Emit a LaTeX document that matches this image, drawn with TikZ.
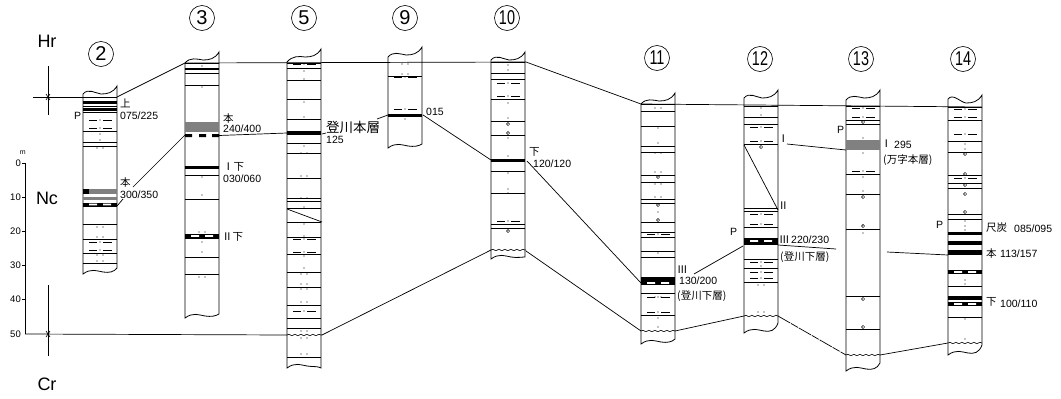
\documentclass[tikz,border=0pt]{standalone}
\usepackage{fontspec}
\setmainfont{Liberation Sans}
\newfontfamily\cjk{Noto Sans CJK JP}
\usepackage{tikz}
\usetikzlibrary{decorations.pathmorphing}
\tikzstyle{wall} = [draw, line width=0.8pt]
\tikzstyle{bedline} = [draw, line width=0.7pt]
\tikzstyle{tieline} = [draw, line width=0.7pt]
\tikzstyle{wavy} = [draw, line width=0.6pt, decorate, decoration={snake, amplitude=0.7pt, segment length=6pt}]
\tikzstyle{numeral} = [draw, circle, line width=0.6pt, minimum size=25pt, inner sep=0pt, font=\fontsize{20}{20}\selectfont]
\tikzstyle{unit} = [inner sep=0pt, font=\fontsize{18}{18}\selectfont]
\tikzstyle{tag} = [inner sep=0pt, anchor=west, font=\fontsize{10.5}{11}\selectfont]
\tikzstyle{kanji} = [inner sep=0pt, anchor=west, font=\fontsize{10.5}{11}\selectfont\cjk]
\tikzstyle{scalenum} = [inner sep=0pt, anchor=east, font=\fontsize{9.5}{10}\selectfont]
\newcommand{\narrownum}[1]{\scalebox{0.72}[1]{#1}}
% outline: x, top left, top right, bottom left, bottom right
\newcommand{\strata}[5]{\draw[wall] (#1,#2) -- (#1,#4) .. controls (#1+8,#4-6) and (#1+14,#4-3) .. (#1+20,#4-2) .. controls (#1+26,#4-1) and (#1+31,#4-2) .. (#1+34,#5) -- (#1+34,#3) .. controls (#1+30,#3+7) and (#1+24,#3+8) .. (#1+18,#3+8) .. controls (#1+12,#3+7) and (#1+5,#2-6) .. (#1,#2);}
\newcommand{\beds}[2]{\foreach \y in {#2} \draw[bedline] (#1,\y) -- (#1+34,\y);}
\newcommand{\sands}[2]{\foreach \y in {#2} {\draw[line width=0.7pt] (#1+6,\y) -- (#1+14,\y) (#1+20,\y) -- (#1+29,\y); \fill (#1+17,\y) circle (0.6pt);}}
\newcommand{\grits}[2]{\foreach \y in {#2} \fill (#1+17,\y) circle (0.6pt);}
\newcommand{\pairs}[2]{\foreach \y in {#2} {\fill (#1+14,\y) circle (0.6pt); \fill (#1+20,\y) circle (0.6pt);}}
\newcommand{\pebbles}[2]{\foreach \y in {#2} \draw[line width=0.5pt] (#1+17,\y) circle (1.6pt);}
\newcommand{\seam}[4][black]{\fill[#1] (#2,#3) rectangle (#2+34,#4);}
\newcommand{\specks}[2]{\foreach \y in {#2} \fill[white] (#1+6,\y-0.8) rectangle (#1+14,\y+0.8) (#1+20,\y-0.8) rectangle (#1+28,\y+0.8);}

\begin{document}
\begin{tikzpicture}[x=1pt, y=-1pt]
	\useasboundingbox (0,0) rectangle (1061,399);
	% Place numbers
	\node [numeral] (n2) at (101,54) {2};
	\node [numeral] (n3) at (202,18) {3};
	\node [numeral] (n5) at (304,18) {5};
	\node [numeral] (n9) at (405,18) {9};
	\node [numeral] (n10) at (507,18) {\narrownum{10}};
	\node [numeral] (n11) at (657,58) {\narrownum{11}};
	\node [numeral] (n12) at (760,59) {\narrownum{12}};
	\node [numeral] (n13) at (861,59) {\narrownum{13}};
	\node [numeral] (n14) at (963,59) {\narrownum{14}};

	\node [unit] (hr) at (47,41) {Hr};
	\node [unit] (nc) at (47,198) {Nc};
	\node [unit] (cr) at (47,384) {Cr};

	% Scale
	\node [scalenum] (s0) at (21,163) {0};
	\node [scalenum] (s10) at (21,197) {10};
	\node [scalenum] (s20) at (21,231) {20};
	\node [scalenum] (s30) at (21,265) {30};
	\node [scalenum] (s40) at (21,299) {40};
	\node [scalenum] (s50) at (21,334) {50};
	\node [scalenum, font=\fontsize{7}{7}\selectfont] (sm) at (26,153) {m};
	\draw [line width=0.7pt] (22,163) -- (25,163) -- (25,334);
	\foreach \y in {197,231,265,299} \draw [line width=0.7pt] (22,\y) -- (25,\y);

	% Contact marks
	\coordinate (topA) at (48,66);
	\coordinate (topB) at (48,115);
	\coordinate (botA) at (48,285);
	\coordinate (botB) at (48,356);
	\draw [line width=0.6pt] (topA) -- (topB);
	\draw [line width=0.6pt] (botA) -- (botB);
	\draw [line width=0.6pt] (46,94) -- (50,100) (50,94) -- (46,100);
	\draw [line width=0.6pt] (46,331) -- (50,337) (50,331) -- (46,337);

	% Column 2
	\strata{83}{94}{86}{274}{268}
	\beds{83}{97,106,112,131,142,146,206,224,239,253,263}
	\seam{83}{100.5}{103.5}
	\seam{83}{108}{111}
	\sands{83}{120,128,242,250}
	\grits{83}{134,140}
	\pairs{83}{148,227,237,255,261}
	\seam[black!50]{83}{189}{194}
	\seam[black!50]{83}{197}{200}
	\fill (83,189) rectangle (89,194);
	\seam{83}{203}{206}
	\specks{83}{204.5}

	% Column 3
	\strata{185}{63}{52}{318}{314}
	\beds{185}{63,73,85,175,199,257,274}
	\seam{185}{68}{70}
	\grits{185}{66,87,177,195,242,252}
	\seam[black!50]{185}{122}{132}
	\fill (185,134) rectangle (192,137) (199,134) rectangle (206,137) (212,134) rectangle (219,137);
	\seam{185}{166}{168.5}
	\seam{185}{234}{239}
	\specks{185}{236}
	\pairs{185}{232,277}

	% Column 5
	\strata{287}{62}{49}{368}{368}
	\fill[white] (286,369) rectangle (323,376);
	\beds{287}{63,68,80,99,119,143,153,178,198,201,208,222,237,254,272,287,305,318,328,357}
	\seam{287}{131}{135}
	\sands{287}{64,239,252,311}
	\grits{287}{71,79,102,117,146,207,224,236,256,268}
	\pairs{287}{153,176,198,274,284,289,302,331,338,354}
	\draw [bedline] (287,209) -- (322,222);
	\draw [wavy] (287,335) -- (322,335);

	% Column 9
	\strata{388}{57}{47}{148}{144}
	\sands{388}{77,109}
	\pairs{388}{64,74}
	\beds{388}{76}
	\seam{388}{114}{116.5}
	\grits{388}{119}

	% Column 10
	\strata{491}{60}{52}{259}{257}
	\beds{491}{62,73,79,99,121,135,171,193,224,228}
	\sands{491}{83,96,193,221}
	\grits{491}{65,70,103,118,138,156,173,189}
	\seam{491}{159}{161.5}
	\pebbles{491}{124,133,231}
	\draw [wavy] (491,250) -- (526,250);

	% Column 11
	\strata{641}{104}{93}{344}{339}
	\beds{641}{104,111,126,146,152,175,182,199,203,222,232,237,251,257,293,315}
	\pairs{641}{108,153,172,184,197,297}
	\grits{641}{128,143,212,253,318,327}
	\pebbles{641}{177,205,220}
	\sands{641}{234,297,312}
	\seam{641}{277}{285}
	\specks{641}{283}
	\draw [wavy] (641,331) -- (675,331);

	% Column 12
	\strata{744}{98}{90}{333}{323}
	\beds{744}{106,117,124,144,208,211,227,259,268,282}
	\sands{744}{127,141,214,224,262,272,278}
	\grits{744}{108,115,266}
	\pebbles{744}{147}
	\pairs{744}{285,312}
	\seam{744}{238}{245}
	\specks{744}{241}
	\draw [bedline] (744,145) -- (778,210);
	\draw [wavy] (744,316) -- (778,316);

	% Column 13
	\strata{846}{100}{90}{371}{363}
	\beds{846}{106,120,124,174,194,229,296,329}
	\sands{846}{108,117,171}
	\grits{846}{138,153,177,191,225,233}
	\pebbles{846}{122,197,226,299,327}
	\seam[black!50]{846}{140}{150}
	\draw [wavy] (846,355) -- (880,355);

	% Column 14
	\strata{948}{99}{95}{355}{345}
	\beds{948}{107,120,141,152,175,183,188,214,219,286,317}
	\sands{948}{109,117,134,178}
	\grits{948}{144,149,221,226,230,284,280,319,339}
	\pebbles{948}{154,174,185,194,212}
	\seam{948}{232}{235}
	\seam{948}{241}{245}
	\seam{948}{250}{255}
	\seam{948}{270}{274}
	\seam{948}{296}{300}
	\seam{948}{302}{306}
	\specks{948}{272,304}
	\draw [wavy] (948,343) -- (982,343);

	% Tie points
	\coordinate (hr0) at (33,97);
	\coordinate (hr2l) at (83,97);
	\coordinate (hr2r) at (117,97);
	\coordinate (hr3l) at (185,63);
	\coordinate (hr10r) at (526,62);
	\coordinate (hr10l) at (491,62);
	\coordinate (hr11l) at (641,104);
	\coordinate (hr14r) at (982,107);
	\coordinate (b0) at (25,334);
	\coordinate (b5l) at (287,335);
	\coordinate (b5r) at (322,335);
	\coordinate (b10l) at (491,250);
	\coordinate (b10r) at (526,251);
	\coordinate (b11l) at (641,331);
	\coordinate (b11r) at (675,331);
	\coordinate (b12l) at (744,316);
	\coordinate (b12r) at (778,316);
	\coordinate (b13l) at (846,355);
	\coordinate (b13r) at (880,355);
	\coordinate (b14l) at (948,343);
	\coordinate (m2a) at (133,187);
	\coordinate (m3a) at (185,135);
	\coordinate (m2b) at (117,206);
	\coordinate (m2c) at (123,199);
	\coordinate (m3r) at (219,135.5);
	\coordinate (m5l) at (287,133);
	\coordinate (m5r) at (322,134);
	\coordinate (m5t) at (326,133);
	\coordinate (m9t) at (377,119);
	\coordinate (m9l) at (388,115);
	\coordinate (m9r) at (423,115);
	\coordinate (m10l) at (491,160);
	\coordinate (m10r) at (527,161);
	\coordinate (m11l) at (641,283);
	\coordinate (m11t) at (694,274);
	\coordinate (m12l) at (743,246);
	\coordinate (u12t) at (787,144);
	\coordinate (u13l) at (846,150);
	\coordinate (m12r) at (778,245);
	\coordinate (m12t) at (836,249);
	\coordinate (m14t) at (887,252);
	\coordinate (m14l) at (948,255);

	\path [tieline] (hr0) -- (hr2l);
	\path [tieline] (hr2r) -- (hr3l);
	\path [tieline] (hr3l) -- (hr10r);
	\path [tieline] (hr10r) -- (hr11l);
	\path [tieline] (hr11l) -- (hr14r);
	\path [tieline] (b0) -- (b5l);
	\path [tieline] (b5r) -- (b10l);
	\path [tieline] (b10r) -- (b11l);
	\path [tieline] (b11r) -- (b12l);
	\path [tieline, dash pattern=on 14pt off 1pt on 8pt off 1pt] (b12r) -- (b13l);
	\path [tieline] (b13r) -- (b14l);
	\path [tieline] (m2a) -- (m3a);
	\path [tieline] (m2b) -- (m2c);
	\path [tieline] (m3r) -- (m5l);
	\path [tieline] (m5r) -- (m5t);
	\path [tieline] (m9t) -- (m9l);
	\path [tieline] (m9r) -- (m10l);
	\path [tieline] (m10r) -- (m11l);
	\path [tieline] (m11t) -- (m12l);
	\path [tieline] (u12t) -- (u13l);
	\path [tieline] (m12r) -- (m12t);
	\path [tieline] (m14t) -- (m14l);

	% Place labels
	\node [tag] (p2) at (74,116) {P};
	\node [kanji] (k2a) at (120,103) {上};
	\node [tag] (v2a) at (120,116) {075/225};
	\node [kanji] (k2b) at (120,183) {本};
	\node [tag] (v2b) at (120,195) {300/350};
	\node [kanji] (k3a) at (223,119) {本};
	\node [tag] (v3a) at (223,129) {240/400};
	\node [kanji] (k3b) at (223,167) {Ⅰ下};
	\node [tag] (v3b) at (223,179) {030/060};
	\node [kanji] (k3c) at (222,237) {Ⅱ下};
	\node [kanji, font=\fontsize{13.5}{14}\selectfont\cjk] (k5) at (326,127) {登川本層};
	\node [tag] (v5) at (326,140) {125};
	\node [tag] (v9) at (426,112) {015};
	\node [kanji] (k10) at (529,152) {下};
	\node [tag] (v10) at (533,164) {120/120};
	\node [kanji] (k11) at (677,270) {Ⅲ};
	\node [tag] (v11) at (679,281) {130/200};
	\node [kanji] (f11) at (677,296) {(登川下層)};
	\node [tag] (p12) at (730,232) {P};
	\node [kanji] (k12a) at (778,139) {Ⅰ};
	\node [kanji] (k12b) at (778,206) {Ⅱ};
	\node [kanji] (k12c) at (779,240) {Ⅲ};
	\node [tag] (v12) at (791,240) {220/230};
	\node [kanji] (f12) at (780,257) {(登川下層)};
	\node [tag] (p13) at (837,130) {P};
	\node [kanji] (k13) at (881,144) {Ⅰ};
	\node [tag] (v13) at (894,145) {295};
	\node [kanji] (f13) at (883,160) {(万字本層)};
	\node [tag] (p14) at (936,225) {P};
	\node [kanji] (k14a) at (986,228) {尺炭};
	\node [tag] (v14a) at (1014,229) {085/095};
	\node [kanji] (k14b) at (986,254) {本};
	\node [tag] (v14b) at (1000,254) {113/157};
	\node [kanji] (k14c) at (986,302) {下};
	\node [tag] (v14c) at (1000,304) {100/110};
\end{tikzpicture}
\end{document}
